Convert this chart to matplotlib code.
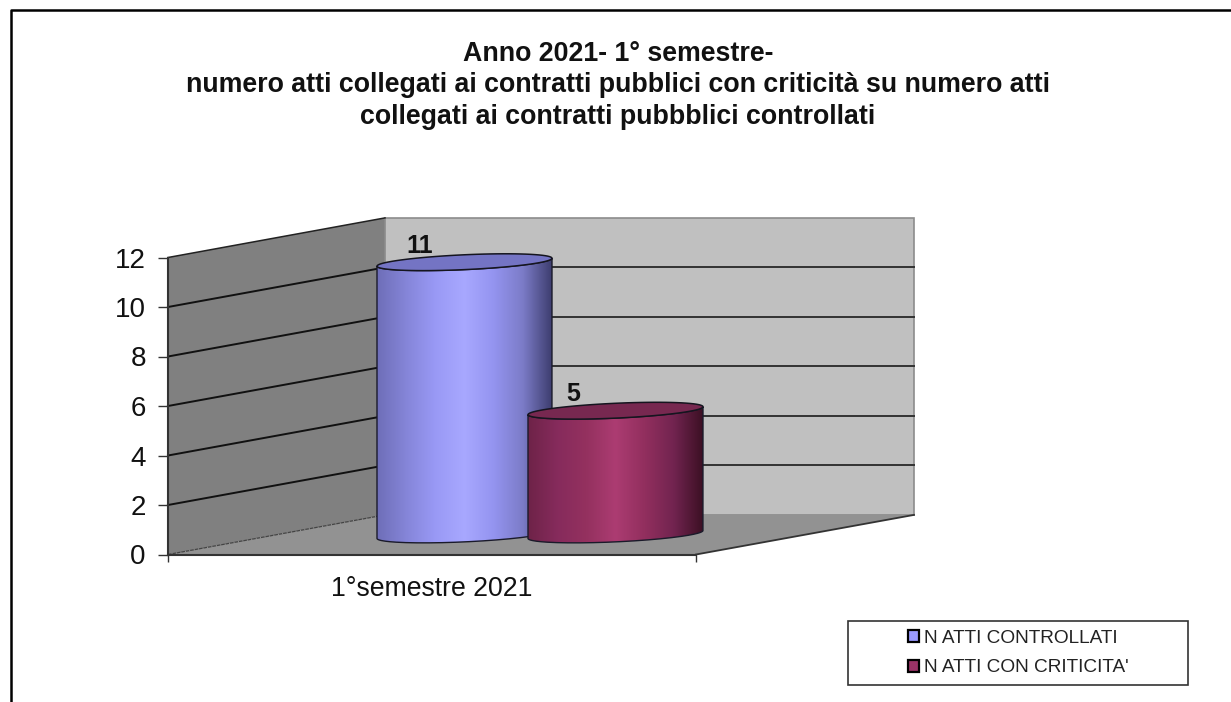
import numpy as np
import matplotlib
matplotlib.use("Agg")
import matplotlib.pyplot as plt
from matplotlib.colors import LinearSegmentedColormap
from matplotlib.patches import Patch, PathPatch, Polygon, Rectangle
from matplotlib.path import Path

# Chart content
title_lines = [
    "Anno 2021- 1° semestre-",
    "numero atti collegati ai contratti pubblici con criticità su numero atti",
    "collegati ai contratti pubbblici controllati",
]
category = "1°semestre 2021"
series_names = ["N ATTI CONTROLLATI", "N ATTI CON CRITICITA'"]
series_values = [11, 5]
y_ticks = [0, 2, 4, 6, 8, 10, 12]

# Styling of each cylinder: body gradient stops and the cap colour
series_colors = ["#9999FF", "#993366"]
body_stops = [
    ["#6E6EB8", "#8585D8", "#9999F5", "#A8A8FF", "#9494F0", "#7C7CC8", "#3E3E70"],
    ["#6E2348", "#862B5C", "#94315F", "#AC3C72", "#922F5E", "#722450", "#3C1024"],
]
cap_colors = ["#7474C4", "#772850"]

# Layout, in figure pixels
W, H = 1231, 702
PX_ZERO = 554.5
PX_PER_UNIT = 24.75
FRONT_LEFT, FRONT_RIGHT = 168, 696
BACK_LEFT, BACK_RIGHT = 385, 914
WALL_DEPTH = 1.6
BAR_BASE = 0.81
BAR_LEFTS = [377, 528]
BAR_WIDTH = 175
CAP_MINOR = 0.30
CAP_TILT = 0.16
LABEL_X = [420, 573]
LABEL_LIFT = 0.66

plt.rcParams["font.family"] = ["Liberation Sans", "DejaVu Sans"]

fig = plt.figure(figsize=(W / 100, H / 100), dpi=100, facecolor="white")
ax = fig.add_axes([0, 0, 1, 1])
y_low = (PX_ZERO - H) / PX_PER_UNIT
y_high = PX_ZERO / PX_PER_UNIT
ax.patch.set_alpha(0)

top = max(y_ticks)
# Side wall, back wall and floor of the 3D box
ax.add_patch(Polygon([(FRONT_LEFT, 0), (BACK_LEFT, WALL_DEPTH),
                      (BACK_LEFT, top + WALL_DEPTH), (FRONT_LEFT, top)],
                     closed=True, fc="#808080", ec="none", zorder=1))
ax.add_patch(Polygon([(BACK_LEFT, WALL_DEPTH), (BACK_RIGHT, WALL_DEPTH),
                      (BACK_RIGHT, top + WALL_DEPTH), (BACK_LEFT, top + WALL_DEPTH)],
                     closed=True, fc="#C0C0C0", ec="#8C8C8C", lw=1.2, zorder=1))
ax.add_patch(Polygon([(FRONT_LEFT, 0), (FRONT_RIGHT, 0),
                      (BACK_RIGHT, WALL_DEPTH), (BACK_LEFT, WALL_DEPTH)],
                     closed=True, fc="#929292", ec="none", zorder=1))

# Gridlines folding from the side wall onto the back wall
for t in y_ticks[1:-1]:
    ax.plot([FRONT_LEFT, BACK_LEFT], [t, t + WALL_DEPTH], color="#111111", lw=1.4, zorder=2)
    ax.plot([BACK_LEFT, BACK_RIGHT], [t + WALL_DEPTH] * 2, color="#333333", lw=1.4, zorder=2)
ax.plot([FRONT_LEFT, BACK_LEFT], [top, top + WALL_DEPTH], color="#222222", lw=1.1, zorder=2)
ax.plot([FRONT_LEFT, BACK_LEFT], [0, WALL_DEPTH], color="#444444", lw=0.9, ls=(0, (3, 0.6)), zorder=2)
ax.plot([FRONT_RIGHT, BACK_RIGHT], [0, WALL_DEPTH], color="#333333", lw=1.3, zorder=2)


def rim(cx, cy, half_w, start, stop):
    """Points along a slightly tilted ellipse, from angle start to stop."""
    a = np.radians(np.linspace(start, stop, 80))
    return cx + half_w * np.cos(a), cy + CAP_MINOR * np.sin(a) + CAP_TILT * np.cos(a)


for i, (left, value, stops, cap, lx) in enumerate(
        zip(BAR_LEFTS, series_values, body_stops, cap_colors, LABEL_X)):
    z = 3 + i * 3
    half = BAR_WIDTH / 2
    cx = left + half
    y_top = BAR_BASE + value
    # Body outline: front half of the top rim, then front half of the bottom rim
    xt, yt = rim(cx, y_top, half, 180, 360)
    xb, yb = rim(cx, BAR_BASE, half, 360, 180)
    outline = np.column_stack([np.r_[xt, xb], np.r_[yt, yb]])
    cmap = LinearSegmentedColormap.from_list("body", stops)
    body = PathPatch(Path(np.vstack([outline, outline[:1]])), fc="none", ec="#1A1A2A", lw=1.0, zorder=z + 1)
    ax.add_patch(body)
    img = ax.imshow(np.linspace(0, 1, 256)[None, :], cmap=cmap, aspect="auto",
                    extent=[left, left + BAR_WIDTH, BAR_BASE - 1, y_top + 1], zorder=z)
    img.set_clip_path(body)
    # Cap
    xc, yc = rim(cx, y_top, half, 0, 360)
    ax.fill(xc, yc, fc=cap, ec="#15151F", lw=1.1, zorder=z + 2)
    ax.text(lx, y_top + LABEL_LIFT, str(value), ha="center", va="center",
            fontsize=18, fontweight="bold", color="#111111", zorder=12)

# Axes drawn as real spines pinned to the front corner of the box
ax.set_xlim(0, W)
ax.set_ylim(y_low, y_high)
for side in ("top", "right"):
    ax.spines[side].set_visible(False)
ax.spines["left"].set_position(("data", FRONT_LEFT))
ax.spines["left"].set_bounds(0, top)
ax.spines["bottom"].set_position(("data", 0))
ax.spines["bottom"].set_bounds(FRONT_LEFT, FRONT_RIGHT)
for side in ("left", "bottom"):
    ax.spines[side].set_color("#333333")
    ax.spines[side].set_linewidth(1.5)
    ax.spines[side].set_zorder(2.5)
ax.set_yticks(y_ticks)
ax.tick_params(axis="y", length=7, width=1, color="#333333", labelsize=20, pad=9, labelcolor="#111111")
ax.set_xticks([FRONT_LEFT, FRONT_RIGHT])
ax.set_xticklabels(["", ""])
ax.tick_params(axis="x", length=5, width=1, color="#333333")
ax.set_xticks([(FRONT_LEFT + FRONT_RIGHT) / 2], minor=True)
ax.set_xticklabels([category], minor=True)
ax.tick_params(axis="x", which="minor", length=0, labelsize=19.2, pad=15.5, labelcolor="#111111")

# Title, one centred block
fig.text(618 / W, 1 - 85.5 / H, "\n".join(title_lines), ha="center", va="center",
         fontsize=19.3, fontweight="bold", linespacing=1.29, color="#111111")

# Legend: a fixed frame with the entries centred inside it
box = (848, 621, 340, 64)
ax.add_patch(Rectangle((box[0] / W, 1 - (box[1] + box[3]) / H), box[2] / W, box[3] / H,
                       transform=fig.transFigure, fc="white", ec="#333333", lw=1.2, zorder=13))
handles = [Patch(fc=c, ec="black", lw=1.6) for c in series_colors]
leg = ax.legend(handles, series_names, loc="center",
                bbox_to_anchor=((box[0] + box[2] / 2) / W, 1 - (box[1] + box[3] / 2) / H),
                bbox_transform=fig.transFigure, frameon=False,
                fontsize=13.7, handlelength=0.62, handleheight=0.62, handletextpad=0.22,
                labelspacing=0.68, borderaxespad=0, borderpad=0, labelcolor="#222222")
leg.set_zorder(14)

# Chart-area frame: top and left edges only
frame_y = (PX_ZERO - 10) / PX_PER_UNIT
ax.plot([11, 11, W], [y_low, frame_y, frame_y], color="black", lw=1.8, zorder=15, clip_on=False)

fig.savefig("out.png", dpi=100, facecolor="white")
